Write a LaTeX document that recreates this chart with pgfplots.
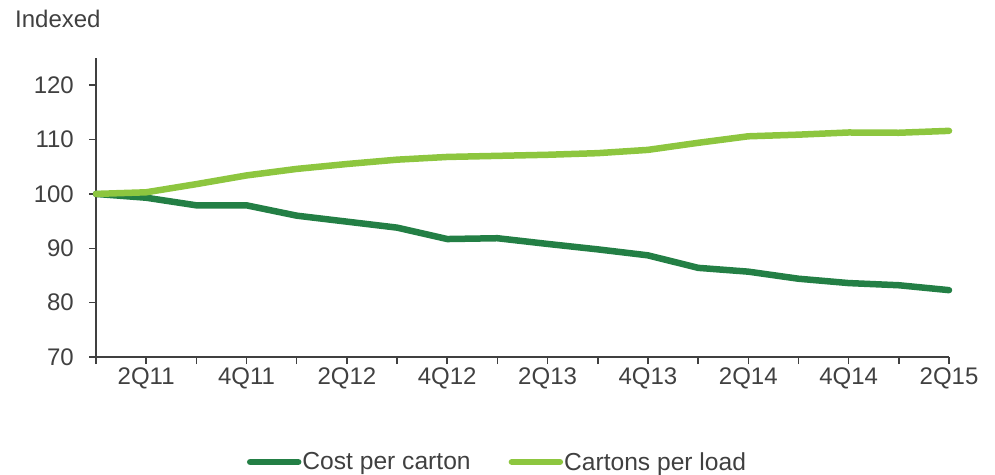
\documentclass[border=0pt]{standalone}
\usepackage{pgfplots}
\pgfplotsset{compat=1.18}
\usepackage{fontspec}
\setmainfont{Liberation Sans}
\definecolor{darkg}{HTML}{237F45}
\definecolor{lightg}{HTML}{8DC63F}
\definecolor{txt}{HTML}{404040}
\begin{document}
\begin{tikzpicture}
\path (-96pt,-117pt) rectangle (899pt,357pt);
\begin{axis}[
  at={(0pt,0pt)}, anchor=south west, scale only axis,
  width=853pt, height=299pt,
  xmin=0, xmax=17, ymin=70, ymax=125,
  axis x line=bottom, axis y line=left,
  axis line style={-, line width=1.5pt, color=txt},
  xtick={0,...,17},
  xticklabels={,2Q11,,4Q11,,2Q12,,4Q12,,2Q13,,4Q13,,2Q14,,4Q14,,2Q15},
  ytick={70,80,...,120},
  tick align=outside, major tick length=7pt,
  tick style={line width=1.5pt, color=txt},
  tick label style={font=\fontsize{24}{28}\selectfont, text=txt},
  /pgf/number format/assume math mode=true,
  xticklabel style={anchor=north, inner ysep=4pt},
  yticklabel style={anchor=east, inner xsep=15pt},
  clip=false,
  legend columns=2,
  legend style={at={(axis description cs:0.4701,-0.351)}, anchor=center, draw=none, fill=none,
    font=\fontsize{24.6}{28}\selectfont, text=txt,
    /tikz/every even column/.append style={column sep=37pt},
    nodes={inner sep=1pt}},
  legend image code/.code={\draw[#1] (3pt,0pt) -- (51pt,0pt);},
]
\addplot[darkg, line width=6.5pt, line join=round, line cap=round] coordinates {
(0,100) (1,99.3) (2,97.9) (3,97.9) (4,96.0) (5,94.9) (6,93.8) (7,91.7) (8,91.85)
(9,90.8) (10,89.8) (11,88.7) (12,86.4) (13,85.7) (14,84.4) (15,83.6) (16,83.2) (17,82.3)};
\addlegendentry{Cost per carton}
\addplot[lightg, line width=6.5pt, line join=round, line cap=round] coordinates {
(0,100) (1,100.3) (2,101.8) (3,103.4) (4,104.6) (5,105.5) (6,106.3) (7,106.8) (8,107.0)
(9,107.2) (10,107.5) (11,108.1) (12,109.4) (13,110.6) (14,110.9) (15,111.3) (16,111.25) (17,111.6)};
\addlegendentry{Cartons per load}
\end{axis}
\node[anchor=base west, font=\fontsize{24}{28}\selectfont, text=txt, inner sep=0pt] at (-81pt,329pt) {Indexed};
\end{tikzpicture}
\end{document}
